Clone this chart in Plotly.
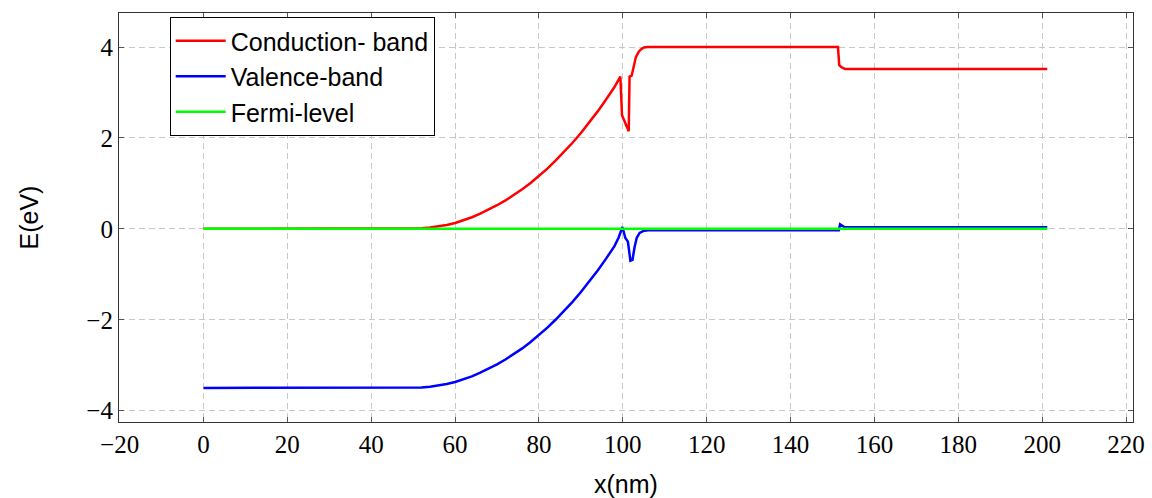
import plotly.graph_objects as go

# Conduction band (x in nm, E in eV)
cb_x = [0, 10, 20, 30, 40, 45, 48, 50, 52, 54, 56, 58, 60, 62, 64, 66, 68, 70, 72, 74, 76, 78,
        80, 82, 84, 86, 88, 90, 92, 94, 96, 98, 99.4, 99.8, 101.4, 101.6, 102.1, 102.6, 103.1,
        103.8, 104.3, 105, 106, 120, 140, 151.3, 151.6, 152.2, 153, 170, 190, 201.2]
cb_e = [0, 0, 0, 0, 0, 0, 0.0, 0.003, 0.011, 0.028, 0.052, 0.086, 0.13, 0.19, 0.255, 0.335,
        0.42, 0.52, 0.625, 0.745, 0.87, 1.01, 1.16, 1.325, 1.505, 1.695, 1.895, 2.11, 2.34,
        2.585, 2.845, 3.12, 3.35, 2.5, 2.15, 3.35, 3.37, 3.6, 3.78, 3.9, 3.95, 3.99, 4.0, 4.0,
        4.0, 4.0, 3.6, 3.55, 3.52, 3.52, 3.52, 3.52]

# Valence band
vb_x = [0, 10, 20, 30, 40, 45, 48, 50, 52, 54, 56, 58, 60, 62, 64, 66, 68, 70, 72, 74, 76, 78,
        80, 82, 84, 86, 88, 90, 92, 94, 96, 98, 99, 99.9, 100.6, 101.2, 101.8, 102.3, 102.8,
        103.3, 104, 104.8, 106, 120, 140, 151.5, 151.8, 152.2, 152.8, 170, 190, 201.2]
vb_e = [-3.5, -3.5, -3.5, -3.5, -3.5, -3.5, -3.5, -3.498, -3.489, -3.472, -3.448, -3.414,
        -3.37, -3.31, -3.245, -3.165, -3.08, -2.98, -2.875, -2.755, -2.63, -2.49, -2.34,
        -2.175, -1.995, -1.805, -1.605, -1.39, -1.16, -0.915, -0.655, -0.38, -0.19, 0.04,
        -0.2, -0.28, -0.70, -0.68, -0.4, -0.2, -0.09, -0.05, -0.03, -0.03, -0.03, -0.03, 0.1,
        0.08, 0.04, 0.035, 0.035, 0.035]

# Fermi level
ef_x = [0, 201.2]
ef_e = [0, 0]

x_ticks = [-20, 0, 20, 40, 60, 80, 100, 120, 140, 160, 180, 200, 220]
y_ticks = [-4, -2, 0, 2, 4]

fig = go.Figure()
fig.add_trace(go.Scatter(x=cb_x, y=cb_e, mode="lines", name="Conduction- band",
                         line=dict(color="#ff0000", width=2.5)))
fig.add_trace(go.Scatter(x=vb_x, y=vb_e, mode="lines", name="Valence-band",
                         line=dict(color="#0000ff", width=2.5)))
fig.add_trace(go.Scatter(x=ef_x, y=ef_e, mode="lines", name="Fermi-level",
                         line=dict(color="#00ff00", width=2.5)))

axis_common = dict(
    showline=True, linecolor="#333333", linewidth=1.2, mirror="allticks",
    ticks="inside", ticklen=5, tickcolor="#555555", tickwidth=1,
    showgrid=True, gridcolor="#c8c8c8", gridwidth=1, griddash="6px,4px",
    zeroline=False, automargin=False,
    tickfont=dict(family="Liberation Serif", size=25, color="black"),
)

fig.update_layout(
    width=1152, height=498,
    margin=dict(l=119, r=19, t=13, b=76),
    paper_bgcolor="white", plot_bgcolor="white",
    xaxis=dict(range=[-20.15, 221.65], tickvals=x_ticks, **axis_common,
               title=dict(text="x(nm)", font=dict(family="Liberation Sans", size=25, color="black"),
                          standoff=22)),
    yaxis=dict(range=[-4.25, 4.75], tickvals=y_ticks, **axis_common,
               title=dict(text="E(eV)", font=dict(family="Liberation Sans", size=25, color="black"),
                          standoff=40)),
    legend=dict(x=0.05, y=0.99, xanchor="left", yanchor="top",
                bgcolor="white", bordercolor="black", borderwidth=1,
                font=dict(family="Liberation Sans", size=25, color="black"),
                tracegroupgap=0, itemwidth=50),
    showlegend=True,
)

fig.write_html("out.html")
